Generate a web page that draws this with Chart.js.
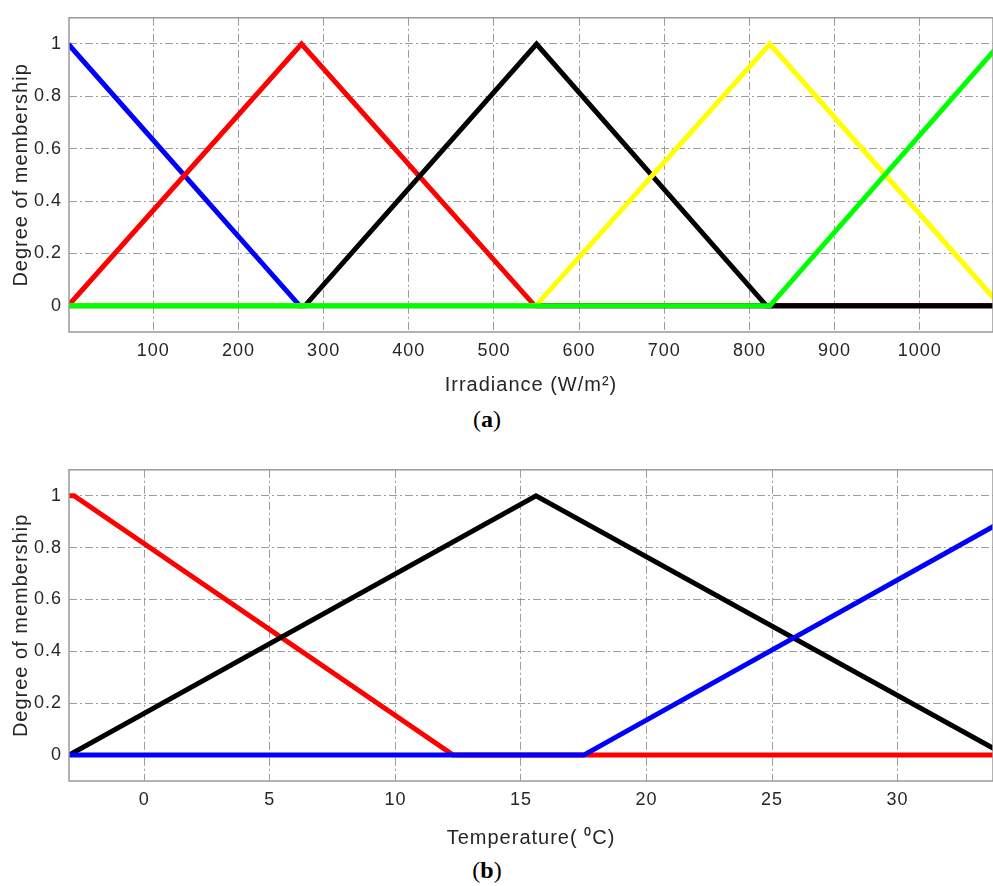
<!DOCTYPE html>
<html>
<head>
<meta charset="utf-8">
<script src="https://cdn.jsdelivr.net/npm/chart.js@4.4.1/dist/chart.umd.min.js"></script>
<style>
  body { margin: 0; background: #fff; width: 993px; height: 886px; position: relative; overflow: hidden; }
  canvas { position: absolute; left: 0; }
  #chartA { top: 0; }
  #chartB { top: 452px; }
  .cap { position: absolute; width: 120px; margin-left: -60px; left: 487px; text-align: center;
         font-family: "Liberation Serif", serif; font-size: 24px; color: #000; line-height: 24px; }
</style>
</head>
<body>
<canvas id="chartA" width="993" height="400"></canvas>
<canvas id="chartB" width="993" height="400"></canvas>
<div class="cap" style="top:407px">(<b>a</b>)</div>
<div class="cap" style="top:858px">(<b>b</b>)</div>
<script>
// membership ticks (shared by both plots)
const memTicks = [0, 0.2, 0.4, 0.6, 0.8, 1];

// (a) irradiance membership functions
const irrTicks = [100, 200, 300, 400, 500, 600, 700, 800, 900, 1000];
const irrBlueX = [0, 272, 1096];
const irrBlueY = [1, 0, 0];
const irrRedX = [0, 274, 548, 1096];
const irrRedY = [0, 1, 0, 0];
const irrBlackX = [0, 278, 550, 820, 1096];
const irrBlackY = [0, 0, 1, 0, 0];
const irrYellowX = [0, 549, 824, 1095];
const irrYellowY = [0, 0, 1, 0];
const irrGreenX = [0, 824, 1094];
const irrGreenY = [0, 0, 1];

// (b) temperature membership functions
const tempTicks = [0, 5, 10, 15, 20, 25, 30];
const tempRedX = [-3, -2.8, 12.3, 34];
const tempRedY = [1, 1, 0, 0];
const tempBlackX = [-3, 15.6, 34.3];
const tempBlackY = [0, 1, 0];
const tempBlueX = [-3, 17.5, 36];
const tempBlueY = [0, 0, 1];

const pts = (xs, ys) => xs.map((x, i) => ({ x: x, y: ys[i] }));

const gridColor = '#9c9c9c';
const textColor = '#262626';
const dashDot = [8, 3, 2, 3];

// box around the plot area, like matlab's axes
const framePlugin = {
  id: 'frame',
  beforeUpdate(chart) {
    // matlab text is a bit wider than liberation sans
    chart.ctx.letterSpacing = '1px';
  },
  afterDatasetsDraw(chart) {
    const { ctx, chartArea: a } = chart;
    ctx.save();
    ctx.setLineDash([]);
    ctx.strokeStyle = '#9a9a9a';
    ctx.lineWidth = 1.5;
    ctx.strokeRect(a.left, a.top, a.right - a.left, a.bottom - a.top);
    ctx.restore();
  }
};

function line(data, color) {
  return {
    data: data,
    borderColor: color,
    backgroundColor: color,
    borderWidth: 5,
    pointRadius: 0,
    tension: 0,
    fill: false,
    clip: 0
  };
}

function makeChart(id, datasets, xMin, xMax, xTicks, xTitle, opts) {
  new Chart(document.getElementById(id), {
    type: 'line',
    data: { datasets: datasets },
    options: {
      responsive: false,
      maintainAspectRatio: false,
      devicePixelRatio: 1,
      animation: false,
      layout: { padding: { top: opts.top, left: 0, right: 0, bottom: 0 } },
      plugins: { legend: { display: false }, tooltip: { enabled: false } },
      scales: {
        x: {
          type: 'linear',
          min: xMin,
          max: xMax,
          afterBuildTicks: s => { s.ticks = xTicks.map(v => ({ value: v })); },
          afterFit: s => { s.height = opts.xHeight; },
          border: { display: false, dash: dashDot },
          grid: { color: gridColor, lineWidth: 1, drawTicks: false },
          ticks: { color: textColor, padding: 8, maxRotation: 0, font: { family: 'Liberation Sans', size: 18 },
                   callback: v => String(v) },
          title: { display: true, text: xTitle, color: textColor, padding: { top: 0, bottom: opts.titlePad },
                   font: { family: 'Liberation Sans', size: 20 } }
        },
        y: {
          type: 'linear',
          min: -0.1,
          max: 1.1,
          afterBuildTicks: s => { s.ticks = memTicks.map(v => ({ value: v })); },
          afterFit: s => { s.width = 69; },
          border: { display: false, dash: dashDot },
          grid: { color: gridColor, lineWidth: 1, drawTicks: false },
          ticks: { color: textColor, padding: 7, font: { family: 'Liberation Sans', size: 18 },
                   callback: v => String(v) },
          title: { display: true, text: 'Degree of membership', color: textColor, padding: { top: 9, bottom: 0 },
                   font: { family: 'Liberation Sans', size: 20 } }
        }
      }
    },
    plugins: [framePlugin]
  });
}

makeChart('chartA', [
  line(pts(irrGreenX, irrGreenY), '#00ff00'),
  line(pts(irrYellowX, irrYellowY), '#ffff00'),
  line(pts(irrBlackX, irrBlackY), '#000000'),
  line(pts(irrRedX, irrRedY), '#ff0000'),
  line(pts(irrBlueX, irrBlueY), '#0000ff')
], 1, 1086, irrTicks, 'Irradiance (W/m²)', { top: 13, xHeight: 68, titlePad: 3 });

makeChart('chartB', [
  line(pts(tempBlueX, tempBlueY), '#0000ff'),
  line(pts(tempBlackX, tempBlackY), '#000000'),
  line(pts(tempRedX, tempRedY), '#ff0000')
], -3, 33.8, tempTicks, 'Temperature( ⁰C)', { top: 12, xHeight: 71, titlePad: 2 });
</script>
</body>
</html>
